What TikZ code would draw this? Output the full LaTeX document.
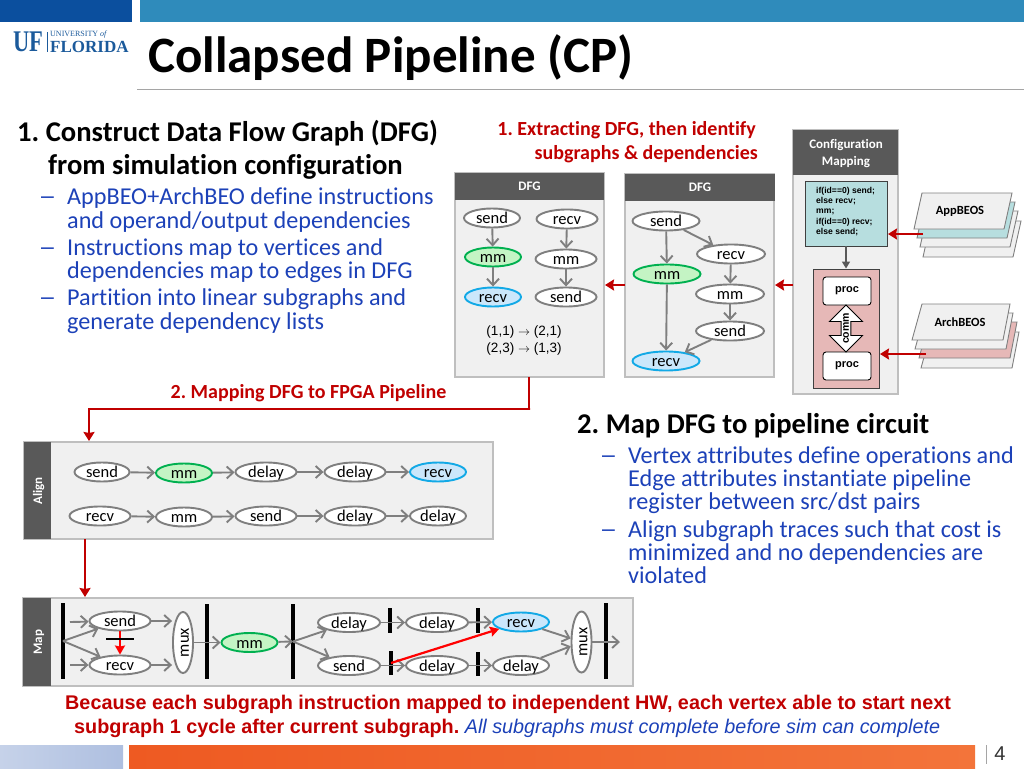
\documentclass[tikz,border=0pt]{standalone}
\usepackage{fontspec}
\setmainfont{Carlito}[Ligatures={TeX,NoCommon}]
\newfontfamily\arialfont{Liberation Sans}
\newfontfamily\logofont{Liberation Serif}
\usetikzlibrary{arrows.meta,shapes.geometric,shapes.arrows}
\definecolor{hdrdark}{HTML}{0B4F9E}
\definecolor{hdrlight}{HTML}{2F8BBB}
\definecolor{ufblue}{HTML}{1B5A9B}
\definecolor{bullblue}{HTML}{1C41B8}
\definecolor{redtxt}{HTML}{C00000}
\definecolor{panelgray}{HTML}{F0F0F0}
\definecolor{paneledge}{HTML}{BFBFBF}
\definecolor{paneldark}{HTML}{595959}
\definecolor{edgegray}{HTML}{7F7F7F}
\definecolor{tealfill}{HTML}{B7DEDF}
\definecolor{pinkfill}{HTML}{E6B8B7}
\definecolor{mmfill}{HTML}{C4F4C4}
\definecolor{mmedge}{HTML}{00B050}
\definecolor{recvfill}{HTML}{CBE7FB}
\definecolor{recvedge}{HTML}{12A9E6}
\definecolor{footblueA}{HTML}{C6D2E9}
\definecolor{footblueB}{HTML}{AEBFE0}
\definecolor{footorangeA}{HTML}{EE5A22}
\definecolor{footorangeB}{HTML}{F3743A}
\tikzset{
  lefttxt/.style={anchor=west, inner sep=0, text=bullblue, text height=19, text depth=5, font=\fontsize{24.2}{24}\selectfont},
  dashtxt/.style={anchor=west, inner sep=0, text=bullblue, font=\fontsize{23}{23}\selectfont\arialfont},
  headtxt/.style={anchor=west, inner sep=0, text=black, font=\fontsize{28.6}{28}\selectfont\bfseries},
  redlabel/.style={inner sep=0, text=redtxt, font=\fontsize{20}{20}\selectfont\bfseries},
  botred/.style={inner sep=0, anchor=west, text=redtxt, font=\fontsize{19.8}{20}\selectfont\arialfont\bfseries},
  panel/.style={draw=paneledge, line width=1.2, fill=panelgray},
  darkbar/.style={fill=paneldark},
  baritem/.style={text=white, inner sep=0, text height=10, text depth=2, font=\fontsize{13}{13}\selectfont\bfseries},
  vertex/.style={ellipse, draw=edgegray, line width=1.9, fill=white, inner sep=0, minimum height=19, text height=11.5, text depth=0, font=\fontsize{16.5}{16.5}\selectfont},
  vmm/.style={vertex, draw=mmedge, fill=mmfill},
  vrecv/.style={vertex, draw=recvedge, fill=recvfill},
  muxnode/.style={vertex, rotate=90, minimum width=61, minimum height=20},
  edge/.style={draw=edgegray, line width=1.9, -{Straight Barb[length=6.5,width=12]}},
  redarrow/.style={draw=redtxt, line width=2.8, -{Stealth[length=9,width=11,inset=1]}},
  hotarrow/.style={draw=red, line width=2.2, -{Stealth[length=9,width=10,inset=1]}},
  regbar/.style={fill=black, inner sep=0, minimum width=3.4},
  layer/.style={draw=edgegray, line width=0.9},
  procbox/.style={draw=black, line width=0.9, fill=white, rounded corners=3, inner sep=0, minimum width=48, minimum height=28, font=\fontsize{11}{11}\selectfont\arialfont\bfseries},
  codetxt/.style={anchor=west, inner sep=0, font=\fontsize{8.6}{9}\selectfont\arialfont\bfseries}
}
\begin{document}
\frenchspacing
\begin{tikzpicture}[x=1pt,y=-1pt]
\useasboundingbox (0,0) rectangle (1024,768);
\fill[hdrdark] (0,0) rectangle (132,22);
\fill[hdrlight] (140,0) rectangle (1024,22);
\fill[edgegray!70] (137,88.5) rectangle (1024,89.5);
\node[inner sep=0, text=ufblue, xscale=0.75, font=\fontsize{30}{30}\selectfont\logofont\bfseries] (logouf) at (28,42){UF};
\node[inner sep=0, anchor=west, text=ufblue, font=\fontsize{8}{8}\selectfont\logofont] (logouniv) at (50,34.5){UNIVERSITY \textit{of}};
\node[inner sep=0, anchor=west, text=ufblue, font=\fontsize{17}{17}\selectfont\logofont\bfseries] (logofl) at (50,46.5){FLORIDA};
\fill[ufblue] (46.5,32) rectangle (47,52);
\node[inner sep=0, anchor=west, font=\fontsize{51}{51}\selectfont\bfseries] (title) at (148,58){Collapsed Pipeline (CP)};

\node[headtxt] (head1a) at (17,133){1. Construct Data Flow Graph (DFG)};
\node[headtxt] (head1b) at (48,167){from simulation configuration};
\node[dashtxt] (dash1) at (41,200){–};
\node[lefttxt] (text1a) at (67,197){AppBEO+ArchBEO define instructions};
\node[lefttxt] (text1b) at (67,221){and operand/output dependencies};
\node[dashtxt] (dash2) at (41,251){–};
\node[lefttxt] (text2a) at (67,248){Instructions map to vertices and};
\node[lefttxt] (text2b) at (67,271){dependencies map to edges in DFG};
\node[dashtxt] (dash3) at (41,301){–};
\node[lefttxt] (text3a) at (67,298){Partition into linear subgraphs and};
\node[lefttxt] (text3b) at (67,322){generate dependency lists};

\node[redlabel, anchor=east] (red1a) at (756,130){1. Extracting DFG, then identify};
\node[redlabel, anchor=east] (red1b) at (758,154){subgraphs \& dependencies};
\node[redlabel] (red2) at (308.5,393){2. Mapping DFG to FPGA Pipeline};

\node[headtxt] (head2) at (577,426){2. Map DFG to pipeline circuit};
\node[dashtxt] (dash4) at (602,459){–};
\node[lefttxt] (text4a) at (628,456){Vertex attributes define operations and};
\node[lefttxt] (text4b) at (628,479){Edge attributes instantiate pipeline};
\node[lefttxt] (text4c) at (628,502){register between src/dst pairs};
\node[dashtxt] (dash5) at (602,533){–};
\node[lefttxt] (text5a) at (628,530){Align subgraph traces such that cost is};
\node[lefttxt] (text5b) at (628,553){minimized and no dependencies are};
\node[lefttxt] (text5c) at (628,576){violated};

\draw[panel] (455,173) rectangle (604,377);
\fill[darkbar] (455,173) rectangle (604,199.5);
\node[baritem] (dfgl) at (529.5,186){DFG};
\node[vertex, minimum width=56] (lsend1) at (492,218){send};
\node[vertex, minimum width=61] (lrecv2) at (567,219){recv};
\node[vmm, minimum width=56] (lmm1) at (493,257){mm};
\node[vertex, minimum width=61] (lmm2) at (566,259){mm};
\node[vrecv, minimum width=56] (lrecv1) at (493,297){recv};
\node[vertex, minimum width=61] (lsend2) at (566,297){send};
\draw[edge](lsend1) -- (lmm1);
\draw[edge](lmm1) -- (lrecv1);
\draw[edge](lrecv2) -- (lmm2);
\draw[edge](lmm2) -- (lsend2);
\node[inner sep=0, font=\fontsize{13.5}{13.5}\selectfont\arialfont] (dep1) at (524,332){(1,1) {\fontsize{12}{12}\selectfont$\rightarrow$} (2,1)};
\node[inner sep=0, font=\fontsize{13.5}{13.5}\selectfont\arialfont] (dep2) at (524,349){(2,3) {\fontsize{12}{12}\selectfont$\rightarrow$} (1,3)};

\draw[panel] (625,174) rectangle (774,377);
\fill[darkbar] (625,174) rectangle (775,201);
\node[baritem] (dfgr) at (700,187.5){DFG};
\node[vertex, minimum width=67] (rsend1) at (666,221){send};
\node[vertex, minimum width=68] (rrecv2) at (731,254){recv};
\node[vmm, minimum width=67] (rmm1) at (667,274){mm};
\node[vertex, minimum width=68] (rmm2) at (730,294){mm};
\node[vertex, minimum width=68] (rsend2) at (730,331){send};
\node[vrecv, minimum width=67] (rrecv1) at (666,361){recv};
\draw[edge](rsend1) -- (rmm1);
\draw[edge](rsend1) -- (rrecv2);
\draw[edge](rrecv2) -- (rmm2);
\draw[edge](rmm2) -- (rsend2);
\draw[edge](rsend2) -- (rrecv1);
\draw[edge](rmm1) -- (rrecv1);

\draw[panel] (793,130) rectangle (898,394);
\fill[darkbar] (793,130) rectangle (898,175);
\node[baritem] (cfga) at (846,144){Configuration};
\node[baritem] (cfgb) at (846,161){Mapping};
\node[draw=black!75, line width=0.9, fill=tealfill, minimum width=82, minimum height=65, inner sep=0] (codebox) at (846,213.5){};
\node[codetxt] (code1) at (816,191){if(id==0) send;};
\node[codetxt] (code2) at (816,201.5){else recv;};
\node[codetxt] (code3) at (816,212){mm;};
\node[codetxt] (code4) at (816,222){if(id==0) recv;};
\node[codetxt] (code5) at (816,232){else send;};
\node[draw=black!75, line width=0.9, fill=pinkfill, minimum width=66, minimum height=119, inner sep=0] (archbox) at (846,328.5){};
\draw[draw=paneldark, line width=1.4, -{Triangle[length=7,width=8]}](codebox) -- (archbox);
\node[procbox] (proc1) at (847,291){proc};
\node[procbox] (proc2) at (847,366){proc};
\node[double arrow, draw=black, line width=0.9, fill=white, rotate=90, inner sep=0, minimum height=47, minimum width=33, double arrow head extend=8, double arrow head indent=0, font=\fontsize{10.5}{10.5}\selectfont\arialfont\bfseries] (comm) at (846,328.5){comm};

\draw[layer, fill=panelgray] (931,221) -- (1021,221) -- (1013,257) -- (923,257) -- cycle;
\draw[layer, fill=panelgray] (928,211) -- (1018,211) -- (1010,247) -- (920,247) -- cycle;
\draw[layer, fill=tealfill] (925,202) -- (1015,202) -- (1007,238) -- (917,238) -- cycle;
\draw[layer, fill=panelgray] (922,193) -- (1012,193) -- (1004,229) -- (914,229) -- cycle;
\node[inner sep=0, font=\fontsize{12.5}{12.5}\selectfont\bfseries] (appbeos) at (960,211){AppBEOS};

\draw[layer, fill=panelgray] (931,332) -- (1019,332) -- (1012,368) -- (921,368) -- cycle;
\draw[layer, fill=pinkfill] (929,322) -- (1017,322) -- (1010,358) -- (919,358) -- cycle;
\draw[layer, fill=panelgray] (925,313) -- (1013,313) -- (1006,349) -- (915,349) -- cycle;
\draw[layer, fill=panelgray] (922,304) -- (1010,304) -- (1003,340) -- (912,340) -- cycle;
\node[inner sep=0, font=\fontsize{12.5}{12.5}\selectfont\bfseries] (archbeos) at (960,322){ArchBEOS};

\coordinate (appstart) at (923,234);
\coordinate (append) at (888,234);
\coordinate (archstart) at (926,354);
\coordinate (archend) at (880,354);
\draw[redarrow](appstart) -- (append);
\draw[redarrow](archstart) -- (archend);
\coordinate (cfgout) at (793,285);
\coordinate (rdfgin) at (775,285);
\coordinate (rdfgout) at (625,285);
\coordinate (ldfgin) at (605,285);
\draw[redarrow](cfgout) -- (rdfgin);
\draw[redarrow](rdfgout) -- (ldfgin);

\draw[panel] (24,442) rectangle (493,539);
\fill[darkbar] (24,442) rectangle (51,539);
\node[baritem, rotate=90] (alignlbl) at (38,491){Align};
\node[vertex, minimum width=55] (asend) at (102,472){send};
\node[vmm, minimum width=56] (amm) at (184,473){mm};
\node[vertex, minimum width=61] (adelay1) at (266,472){delay};
\node[vertex, minimum width=61] (adelay2) at (355,472){delay};
\node[vrecv, minimum width=56] (arecv) at (438,472){recv};
\draw[edge](asend) -- (amm);
\draw[edge](amm) -- (adelay1);
\draw[edge](adelay1) -- (adelay2);
\draw[edge](adelay2) -- (arecv);
\node[vertex, minimum width=61] (brecv) at (100,516){recv};
\node[vertex, minimum width=56] (bmm) at (184,517){mm};
\node[vertex, minimum width=61] (bsend) at (266,516){send};
\node[vertex, minimum width=61] (bdelay1) at (355,516){delay};
\node[vertex, minimum width=56] (bdelay2) at (438,516){delay};
\draw[edge](brecv) -- (bmm);
\draw[edge](bmm) -- (bsend);
\draw[edge](bsend) -- (bdelay1);
\draw[edge](bdelay1) -- (bdelay2);

\coordinate (dfgdown) at (529,377);
\coordinate (aligntop) at (89,441);
\draw[redarrow](dfgdown) |- (530,409) -| (aligntop);
\coordinate (alignout) at (85,539);
\coordinate (maptop) at (85,597);
\draw[redarrow](alignout) -- (maptop);

\draw[panel] (23,598) rectangle (633,686);
\fill[darkbar] (23,598) rectangle (51,686);
\node[baritem, rotate=90] (maplbl) at (38,642){Map};
\node[regbar, minimum height=76] (bar1) at (63,641){};
\node[regbar, minimum height=75] (bar2) at (207,641.5){};
\node[regbar, minimum height=75] (bar3) at (293,641.5){};
\node[regbar, minimum height=25] (bar4) at (390,620.5){};
\node[regbar, minimum height=25] (bar5) at (478,620.5){};
\node[regbar, minimum height=24] (bar6) at (391,663){};
\node[regbar, minimum height=24] (bar7) at (478,664){};
\node[regbar, minimum height=76] (bar8) at (606,641){};
\node[vertex, minimum width=61] (msend) at (120,621){send};
\node[vertex, minimum width=61] (mrecv) at (120,665){recv};
\node[muxnode] (mux1) at (183,642.5){mux};
\node[vmm, minimum width=56] (mmm) at (249.5,642.5){mm};
\node[vertex, minimum width=62] (mdelay1) at (349,622.5){delay};
\node[vertex, minimum width=62] (mdelay2) at (437,622.5){delay};
\node[vrecv, minimum width=56] (mrecv2) at (521,622){recv};
\node[vertex, minimum width=62] (msend2) at (349,665.5){send};
\node[vertex, minimum width=62] (mdelay3) at (437,665.5){delay};
\node[vertex, minimum width=56] (mdelay4) at (521,665.5){delay};
\node[muxnode] (mux2) at (581.5,642){mux};
\coordinate (stub1) at (70,622);
\coordinate (stub2) at (70,665);
\coordinate (muxout) at (620,642);
\draw[edge](stub1) -- (msend);
\draw[edge](stub2) -- (mrecv);
\draw[edge](bar1.center) -- (msend);
\draw[edge](bar1.center) -- (mrecv);
\draw[edge](msend) -- (mux1.north |- msend);
\draw[edge](mrecv) -- (mux1.north |- mrecv);
\draw[edge](mux1) -- (mmm);
\draw[edge](mmm) -- (bar3.center);
\draw[edge](bar3.center) -- (mdelay1);
\draw[edge](bar3.center) -- (msend2);
\draw[edge](mdelay1) -- (mdelay2);
\draw[edge](mdelay2) -- (mrecv2);
\draw[edge](msend2) -- (mdelay3);
\draw[edge](mdelay3) -- (mdelay4);
\draw[edge](mrecv2) -- (mux2);
\draw[edge](mdelay4) -- (mux2);
\draw[edge](mux2) -- (muxout);
\draw[hotarrow](msend) -- (mrecv);
\node[fill=black, inner sep=0, minimum width=28, minimum height=2.6] (cutbar) at (120,639){};
\draw[hotarrow](bar6.center) -- (mrecv2);

\node[botred] (bot1) at (65,704){Because each subgraph instruction mapped to independent HW, each vertex able to start next};
\node[botred] (bot2) at (74,728){subgraph 1 cycle after current subgraph. {\mdseries\itshape\color{bullblue} All subgraphs must complete before sim can complete}};

\fill[left color=footblueA, right color=footblueB] (0,745) rectangle (123,768);
\fill[left color=footorangeA, right color=footorangeB] (129,745) rectangle (975,768);
\fill[edgegray!70] (986,745) rectangle (986.8,764);
\node[inner sep=0, text=black!80, font=\fontsize{20}{20}\selectfont\arialfont] (pagenum) at (1000,754){4};
\end{tikzpicture}
\end{document}
